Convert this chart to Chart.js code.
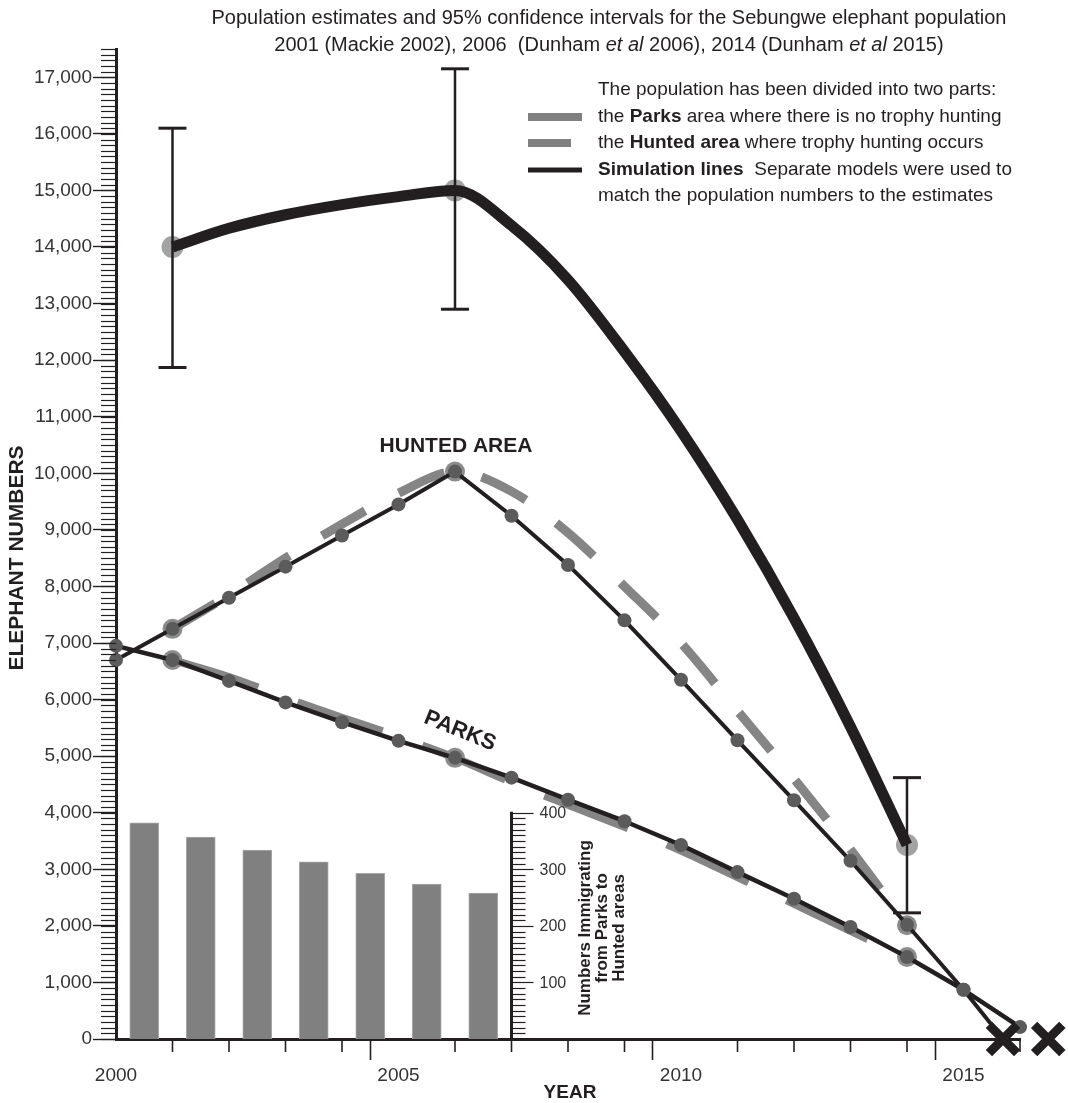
<!DOCTYPE html>
<html>
<head>
<meta charset="utf-8">
<script src="https://cdn.jsdelivr.net/npm/chart.js@4.4.1/dist/chart.umd.min.js"></script>
<style>
  body { margin: 0; background: #fff; }
  canvas { display: block; }
</style>
</head>
<body>
<canvas id="chart" width="1068" height="1103"></canvas>
<script>
// whole population, simulation (thick black line)
const totalYears = [2001, 2002, 2003, 2004, 2005, 2006, 2007, 2008, 2009, 2010, 2011, 2012, 2013, 2014];
const totalSim = [14000, 14330, 14570, 14750, 14890, 15000, 14380, 13420, 12150, 10750, 9180, 7440, 5520, 3430];

// survey estimates and 95% confidence intervals
const estYears = [2001, 2006, 2014];
const totalEst = [14000, 15000, 3430];
const totalLow = [11870, 12900, 2230];
const totalHigh = [16100, 17150, 4620];
const huntedEst = [7250, 10030, 2010];
const parksEst = [6700, 4970, 1450];

// yearly simulation points, each ends at the year the area is emptied
const huntedYears = [2000, 2001, 2002, 2003, 2004, 2005, 2006, 2007, 2008, 2009, 2010, 2011, 2012, 2013, 2014, 2015, 2015.7];
const huntedSim = [6700, 7250, 7800, 8350, 8900, 9450, 10030, 9250, 8380, 7400, 6350, 5280, 4220, 3150, 2020, 870, 0];
const parksYears = [2000, 2001, 2002, 2003, 2004, 2005, 2006, 2007, 2008, 2009, 2010, 2011, 2012, 2013, 2014, 2015, 2016, 2016.5];
const parksSim = [6950, 6700, 6330, 5950, 5600, 5270, 4970, 4620, 4230, 3850, 3430, 2950, 2480, 1980, 1450, 870, 210, 0];

// grey dashed lines through the estimates
const fitYears = [2001, 2002, 2003, 2004, 2005, 2006, 2007, 2008, 2009, 2010, 2011, 2012, 2013, 2014];
const huntedFit = [7250, 7850, 8500, 9100, 9650, 10030, 9680, 8950, 8000, 7000, 5800, 4600, 3350, 2010];
const parksFit = [6700, 6400, 6030, 5680, 5340, 4970, 4540, 4140, 3750, 3330, 2860, 2390, 1910, 1450];

// numbers immigrating from Parks to Hunted areas (inset bars)
const barYears = [2000.5, 2001.5, 2002.5, 2003.5, 2004.5, 2005.5, 2006.5];
const immigrants = [382, 357, 334, 313, 293, 274, 258];
const insetTicks = [100, 200, 300, 400];

// left axis labels
const yTicks = [0, 1000, 2000, 3000, 4000, 5000, 6000, 7000, 8000, 9000, 10000, 11000, 12000, 13000, 14000, 15000, 16000, 17000];

// extinction marks
const extinctYears = [2015.7, 2016.5];
const extinctVals = [0, 0];

const ink = "#231f20";
const FAMILY = '"Liberation Sans", Arial, sans-serif';
const font = (size, weight = "normal", style = "normal") =>
  style + " " + weight + " " + size + "px " + FAMILY;

const pts = (xs, ys) => xs.map((x, i) => ({ x: x, y: ys[i] }));

const drawRuns = (ctx, runs, x, y, align) => {
  let w = 0;
  for (const r of runs) {
    ctx.font = r[1];
    w += ctx.measureText(r[0]).width;
  }
  let cx = align === "center" ? x - w / 2 : x;
  ctx.textAlign = "left";
  for (const r of runs) {
    ctx.font = r[1];
    ctx.fillText(r[0], cx, y);
    cx += ctx.measureText(r[0]).width;
  }
};

const line = (ctx, x1, y1, x2, y2) => {
  ctx.beginPath();
  ctx.moveTo(x1, y1);
  ctx.lineTo(x2, y2);
  ctx.stroke();
};

const decor = {
  id: "decor",
  afterDatasetsDraw: (chart) => {
    const { ctx, scales } = chart;
    const x = scales.x, y = scales.y;
    ctx.save();
    ctx.strokeStyle = ink;
    // error bars
    estYears.forEach((yr, i) => {
      const px = x.getPixelForValue(yr);
      const lo = y.getPixelForValue(totalLow[i]);
      const hi = y.getPixelForValue(totalHigh[i]);
      ctx.lineWidth = 2.5;
      line(ctx, px, lo, px, hi);
      ctx.lineWidth = 3;
      line(ctx, px - 14, lo, px + 14, lo);
      line(ctx, px - 14, hi, px + 14, hi);
    });
    ctx.restore();
  },
  afterDraw: (chart) => {
    const { ctx, scales } = chart;
    const x = scales.x, y = scales.y, y2 = scales.y2;
    ctx.save();
    ctx.strokeStyle = ink;
    ctx.fillStyle = ink;
    ctx.textBaseline = "middle";

    // minor ticks of the left axis
    ctx.lineWidth = 1.2;
    for (let v = 0; v <= y.max; v += 100) {
      const py = Math.round(y.getPixelForValue(v)) + 0.5;
      line(ctx, x.left - 15, py, x.left, py);
    }
    // minor ticks of the year axis
    ctx.lineWidth = 1.6;
    for (let yr = x.min; yr <= x.max; yr++) {
      if (yr % 5 === 0) continue;
      const px = x.getPixelForValue(yr);
      line(ctx, px, y.bottom, px, y.bottom + 13);
    }

    // inset axis for the bars
    const ax = x.getPixelForValue(2007);
    ctx.lineWidth = 1.2;
    for (let v = 0; v <= 400; v += 10) {
      const py = Math.round(y2.getPixelForValue(v)) + 0.5;
      line(ctx, ax, py, ax + (v % 100 === 0 ? 22 : 14), py);
    }
    ctx.lineWidth = 3;
    line(ctx, ax, y2.getPixelForValue(0), ax, y2.getPixelForValue(400) - 1);
    ctx.font = font(16);
    ctx.textAlign = "left";
    ctx.fillStyle = "#333";
    for (const v of insetTicks) ctx.fillText(String(v), ax + 28, y2.getPixelForValue(v) + 1);
    ctx.fillStyle = ink;

    ctx.save();
    ctx.translate(602, 928);
    ctx.rotate(-Math.PI / 2);
    ctx.textAlign = "center";
    ctx.font = font(17, "bold");
    ctx.fillText("Numbers Immigrating", 0, -17);
    ctx.fillText("from Parks to", 0, 0);
    ctx.fillText("Hunted areas", 0, 17);
    ctx.restore();

    // axis titles
    ctx.save();
    ctx.translate(17, 558);
    ctx.rotate(-Math.PI / 2);
    ctx.textAlign = "center";
    ctx.font = font(21, "bold");
    ctx.fillText("ELEPHANT NUMBERS", 0, 0);
    ctx.restore();
    ctx.textAlign = "center";
    ctx.font = font(19, "bold");
    ctx.fillText("YEAR", 570, 1093);

    // area labels
    ctx.font = font(21, "bold");
    ctx.fillText("HUNTED AREA", 456, 446);
    ctx.save();
    ctx.translate(460, 731);
    ctx.rotate((22 * Math.PI) / 180);
    ctx.font = font(22, "bold");
    ctx.fillText("PARKS", 0, 0);
    ctx.restore();

    // title
    const R = font(20), I = font(20, "normal", "italic");
    drawRuns(ctx, [["Population estimates and 95% confidence intervals for the Sebungwe elephant population", R]], 609, 18, "center");
    drawRuns(ctx, [["2001 (Mackie 2002), 2006  (Dunham ", R], ["et al", I], [" 2006), 2014 (Dunham ", R], ["et al", I], [" 2015)", R]], 609, 45, "center");

    // legend
    const LR = font(19), LB = font(19, "bold");
    const legendLines = [
      [["The population has been divided into two parts:", LR]],
      [["the ", LR], ["Parks", LB], [" area where there is no trophy hunting", LR]],
      [["the ", LR], ["Hunted area", LB], [" where trophy hunting occurs", LR]],
      [["Simulation lines", LB], ["  Separate models were used to", LR]],
      [["match the population numbers to the estimates", LR]],
    ];
    const rows = [90, 117, 143, 170, 196];
    legendLines.forEach((runs, i) => drawRuns(ctx, runs, 598, rows[i], "left"));
    ctx.fillStyle = "#808080";
    ctx.fillRect(528, rows[1] - 4, 54, 8);
    ctx.fillRect(528, rows[2] - 4, 43, 8);
    ctx.fillStyle = ink;
    ctx.fillRect(528, rows[3] - 2.5, 54, 5);
    ctx.restore();
  },
};

const chart = new Chart(document.getElementById("chart"), {
  type: "line",
  data: {
    datasets: [
      {
        type: "scatter",
        data: pts(extinctYears, extinctVals),
        pointStyle: "crossRot",
        pointRadius: 20,
        pointBorderWidth: 9,
        pointBorderColor: ink,
        pointBackgroundColor: ink,
        showLine: false,
        clip: false,
        order: 0,
      },
      {
        data: pts(huntedYears, huntedSim),
        borderColor: ink,
        borderWidth: 4,
        borderJoinStyle: "round",
        pointRadius: huntedYears.map((yr) => (yr % 1 === 0 ? 7 : 0)),
        pointBackgroundColor: "#5b5b5b",
        pointBorderWidth: 0,
        tension: 0,
        clip: false,
        order: 1,
      },
      {
        data: pts(parksYears, parksSim),
        borderColor: ink,
        borderWidth: 4.5,
        borderJoinStyle: "round",
        pointRadius: parksYears.map((yr) => (yr % 1 === 0 ? 7 : 0)),
        pointBackgroundColor: "#5b5b5b",
        pointBorderWidth: 0,
        tension: 0,
        clip: false,
        order: 1,
      },
      {
        data: pts(estYears, huntedEst),
        showLine: false,
        pointRadius: 10,
        pointBackgroundColor: "#8c8c8c",
        pointBorderWidth: 0,
        clip: false,
        order: 2,
      },
      {
        data: pts(estYears, parksEst),
        showLine: false,
        pointRadius: 10,
        pointBackgroundColor: "#8c8c8c",
        pointBorderWidth: 0,
        clip: false,
        order: 2,
      },
      {
        data: pts(totalYears, totalSim),
        borderColor: ink,
        borderWidth: 11,
        pointRadius: 0,
        cubicInterpolationMode: "monotone",
        clip: false,
        order: 3,
      },
      {
        data: pts(estYears, totalEst),
        showLine: false,
        pointRadius: 11,
        pointBackgroundColor: "#a3a3a3",
        pointBorderWidth: 0,
        clip: false,
        order: 4,
      },
      {
        data: pts(fitYears, huntedFit),
        borderColor: "#858585",
        borderWidth: 9,
        borderDash: [50, 38],
        pointRadius: 0,
        cubicInterpolationMode: "monotone",
        clip: false,
        order: 5,
      },
      {
        data: pts(fitYears, parksFit),
        borderColor: "#858585",
        borderWidth: 8,
        borderDash: [90, 42],
        pointRadius: 0,
        cubicInterpolationMode: "monotone",
        clip: false,
        order: 5,
      },
      {
        type: "bar",
        data: pts(barYears, immigrants),
        yAxisID: "y2",
        backgroundColor: "#808080",
        borderColor: "#a8a8a8",
        borderWidth: 1,
        barThickness: 29,
        order: 6,
      },
    ],
  },
  options: {
    responsive: false,
    animation: false,
    events: [],
    layout: { padding: { top: 49, right: 48, left: 0, bottom: 0 } },
    plugins: { legend: { display: false }, tooltip: { enabled: false } },
    scales: {
      x: {
        type: "linear",
        min: 2000,
        max: 2016,
        offset: false,
        afterFit: (s) => {
          s.height = 64;
        },
        border: { display: true, width: 3, color: ink },
        grid: {
          drawOnChartArea: false,
          tickLength: 21,
          tickWidth: 1.6,
          tickColor: (c) => (c.tick && c.tick.value % 5 === 0 ? ink : "rgba(0,0,0,0)"),
        },
        ticks: {
          stepSize: 1,
          autoSkip: false,
          maxRotation: 0,
          padding: 4,
          color: "#333",
          font: { size: 19, family: FAMILY },
          callback: (v) => (v % 5 === 0 ? String(v) : ""),
        },
      },
      y: {
        min: 0,
        max: 17500,
        afterFit: (s) => {
          s.width = 116;
        },
        afterBuildTicks: (s) => {
          s.ticks = yTicks.map((v) => ({ value: v }));
        },
        border: { display: true, width: 3, color: ink },
        grid: {
          drawOnChartArea: false,
          tickLength: 23,
          tickWidth: 1.4,
          tickColor: ink,
        },
        ticks: {
          autoSkip: false,
          padding: 1,
          color: "#333",
          font: { size: 19, family: FAMILY },
          callback: (v) => v.toLocaleString("en-US"),
        },
      },
      y2: {
        display: false,
        min: 0,
        max: 1750,
      },
    },
  },
  plugins: [decor],
});
</script>
</body>
</html>
